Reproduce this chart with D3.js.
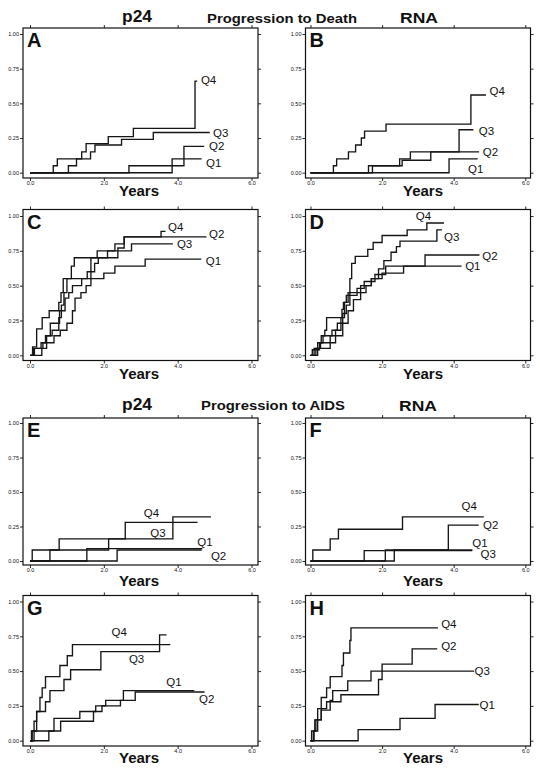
<!DOCTYPE html>
<html>
<head>
<meta charset="utf-8">
<script src="https://cdn.jsdelivr.net/npm/d3@7"></script>
<style>
  body { margin: 0; background: #fff; }
  svg text { font-family: "Liberation Sans", Arial, sans-serif; fill: #111; }
  .tick text { font-size: 5.5px; }
  .tick line { stroke: #111; stroke-width: 0.9; }
</style>
</head>
<body>
<script>
// cumulative probability step curves, [years, probability]; last point = end of follow-up
// Progression to death, p24 quartiles (A)
var aQ1 = [[0,0],[3.85,0.10],[4.65,0.10]];
var aQ2 = [[0,0],[2.68,0.05],[4.17,0.19],[4.72,0.19]];
var aQ3 = [[0,0],[1.04,0.05],[1.26,0.10],[1.64,0.15],[1.76,0.20],[2.48,0.24],[3.34,0.29],[4.87,0.29]];
var aQ4 = [[0,0],[0.63,0.05],[0.74,0.10],[1.40,0.15],[1.52,0.21],[2.12,0.26],[2.80,0.32],[4.47,0.66],[4.53,0.66]];
// Progression to death, RNA quartiles (B)
var bQ1 = [[0,0],[3.87,0.10],[4.67,0.10]];
var bQ2 = [[0,0],[1.73,0.05],[2.56,0.09],[3.36,0.15],[4.71,0.15]];
var bQ3 = [[0,0],[1.62,0.05],[2.49,0.10],[2.79,0.15],[4.15,0.31],[4.55,0.31]];
var bQ4 = [[0,0],[0.64,0.05],[0.73,0.10],[1.06,0.15],[1.26,0.20],[1.42,0.25],[1.51,0.30],[2.11,0.35],[4.48,0.56],[4.90,0.56]];
// (C)
var cQ1 = [[0,0],[0.32,0.05],[0.45,0.09],[0.65,0.14],[0.82,0.18],[1.0,0.23],[1.15,0.32],[1.22,0.41],[1.38,0.45],[1.52,0.50],[1.65,0.55],[2.0,0.59],[2.3,0.64],[3.12,0.69],[4.64,0.69]];
var cQ2 = [[0,0],[0.07,0.06],[0.18,0.19],[0.33,0.27],[0.52,0.32],[0.78,0.38],[0.84,0.45],[0.9,0.55],[1.12,0.64],[1.2,0.70],[2.38,0.77],[2.55,0.85],[4.78,0.85]];
var cQ3 = [[0,0],[0.12,0.05],[0.35,0.09],[0.45,0.14],[0.55,0.23],[0.8,0.32],[0.95,0.41],[1.05,0.45],[1.15,0.50],[1.4,0.55],[1.55,0.60],[1.75,0.66],[1.85,0.70],[2.1,0.75],[2.75,0.80],[3.87,0.80]];
var cQ4 = [[0,0],[0.1,0.05],[0.3,0.09],[0.42,0.14],[0.6,0.18],[0.78,0.27],[0.85,0.36],[0.92,0.45],[1.0,0.55],[1.65,0.70],[1.82,0.75],[2.3,0.80],[2.55,0.85],[3.55,0.89],[3.67,0.89]];
// (D)
var dQ1 = [[0,0],[0.2,0.05],[0.55,0.14],[0.9,0.23],[1.05,0.32],[1.2,0.40],[1.4,0.45],[1.55,0.50],[1.7,0.55],[2.0,0.59],[2.6,0.64],[4.22,0.64]];
var dQ2 = [[0,0],[0.05,0.04],[0.25,0.09],[0.35,0.14],[0.6,0.18],[0.75,0.23],[0.9,0.30],[1.0,0.36],[1.1,0.43],[1.3,0.48],[1.5,0.53],[1.8,0.58],[2.1,0.64],[3.2,0.72],[4.72,0.72]];
var dQ3 = [[0,0],[0.15,0.05],[0.28,0.09],[0.7,0.18],[0.85,0.27],[0.95,0.38],[1.05,0.45],[1.4,0.50],[1.7,0.55],[1.9,0.62],[2.05,0.68],[2.25,0.74],[2.4,0.78],[2.5,0.82],[3.53,0.90],[3.67,0.90]];
var dQ4 = [[0,0],[0.1,0.05],[0.2,0.09],[0.3,0.14],[0.4,0.18],[0.45,0.27],[0.88,0.33],[0.92,0.38],[1.0,0.43],[1.1,0.55],[1.15,0.66],[1.25,0.71],[1.6,0.76],[1.75,0.81],[2.0,0.86],[2.7,0.90],[3.25,0.95],[3.73,0.95]];
// Progression to AIDS, p24 quartiles (E)
var eQ1 = [[0,0],[1.54,0.09],[4.67,0.09]];
var eQ2 = [[0,0],[2.36,0.08],[4.65,0.08]];
var eQ3 = [[0,0],[0.54,0.08],[2.13,0.16],[3.87,0.32],[4.90,0.32]];
var eQ4 = [[0,0],[0.06,0.08],[0.79,0.16],[2.58,0.28],[4.54,0.28]];
// Progression to AIDS, RNA quartiles (F)
var fQ1 = [[0,0],[1.50,0.075],[4.52,0.075]];
var fQ2 = [[0,0],[2.09,0.08],[3.85,0.26],[4.70,0.26]];
var fQ3 = [[0,0],[2.34,0.08],[4.52,0.08]];
var fQ4 = [[0,0],[0.065,0.08],[0.55,0.16],[0.78,0.23],[2.57,0.32],[4.84,0.32]];
// (G)
var gQ1 = [[0,0],[0.06,0.07],[0.65,0.16],[1.35,0.21],[1.78,0.25],[2.05,0.29],[2.53,0.36],[4.45,0.36]];
var gQ2 = [[0,0],[0.51,0.07],[0.83,0.14],[1.72,0.21],[1.95,0.25],[2.45,0.29],[2.85,0.35],[4.73,0.35]];
var gQ3 = [[0,0],[0.11,0.07],[0.18,0.21],[0.42,0.28],[0.54,0.36],[0.92,0.44],[1.10,0.51],[1.92,0.64],[3.51,0.69],[3.80,0.69]];
var gQ4 = [[0,0],[0.04,0.07],[0.11,0.14],[0.18,0.21],[0.27,0.31],[0.33,0.38],[0.42,0.46],[0.81,0.54],[1.01,0.61],[1.15,0.69],[3.51,0.76],[3.70,0.76]];
// (H)
var hQ1 = [[0,0],[1.33,0.08],[2.50,0.16],[3.48,0.26],[4.70,0.26]];
var hQ2 = [[0,0],[0.08,0.07],[0.15,0.15],[0.30,0.23],[0.45,0.28],[0.85,0.33],[1.90,0.44],[2.00,0.55],[2.84,0.66],[3.54,0.66]];
var hQ3 = [[0,0],[0.10,0.07],[0.20,0.15],[0.30,0.22],[0.55,0.29],[0.62,0.36],[1.04,0.43],[1.69,0.50],[4.57,0.50]];
var hQ4 = [[0,0],[0.03,0.07],[0.12,0.15],[0.20,0.23],[0.30,0.31],[0.45,0.38],[0.55,0.46],[0.88,0.54],[0.92,0.63],[1.10,0.72],[1.13,0.81],[3.56,0.81]];

var quartiles = ["Q1", "Q2", "Q3", "Q4"];
var xTicks = [0, 2, 4, 6];
var yTicks = [0, 0.25, 0.5, 0.75, 1];

// page layout
var cols = [
  {left: 23, right: 258, x0: 30, x6: 251.5, yearsX: 139},
  {left: 305.5, right: 530.5, x0: 310.5, x6: 525.3, yearsX: 423}
];
var rows = [
  {top: 28, bottom: 178, y1: 34, y0: 172.7, yearsY: 196},
  {top: 209.5, bottom: 360.5, y1: 216, y0: 355.3, yearsY: 379},
  {top: 418, bottom: 565, y1: 423, y0: 561, yearsY: 586},
  {top: 595.5, bottom: 746, y1: 601.5, y0: 740.7, yearsY: 763}
];

// label anchors (years, prob) for Q1..Q4
var panels = [
  {id: "A", row: 0, col: 0, curves: [aQ1, aQ2, aQ3, aQ4], labels: [[4.77,0.07],[4.85,0.19],[4.96,0.29],[4.63,0.67]]},
  {id: "B", row: 0, col: 1, curves: [bQ1, bQ2, bQ3, bQ4], labels: [[4.40,0.03],[4.81,0.15],[4.70,0.30],[5.0,0.59]]},
  {id: "C", row: 1, col: 0, curves: [cQ1, cQ2, cQ3, cQ4], labels: [[4.76,0.68],[4.85,0.87],[3.98,0.80],[3.74,0.92]]},
  {id: "D", row: 1, col: 1, curves: [dQ1, dQ2, dQ3, dQ4], labels: [[4.32,0.64],[4.80,0.71],[3.73,0.85],[2.94,1.00]]},
  {id: "E", row: 2, col: 0, curves: [eQ1, eQ2, eQ3, eQ4], labels: [[4.53,0.14],[4.90,0.04],[3.26,0.20],[3.08,0.35]]},
  {id: "F", row: 2, col: 1, curves: [fQ1, fQ2, fQ3, fQ4], labels: [[4.52,0.13],[4.82,0.26],[4.75,0.05],[4.22,0.40]]},
  {id: "G", row: 3, col: 0, curves: [gQ1, gQ2, gQ3, gQ4], labels: [[3.69,0.42],[4.58,0.30],[2.68,0.59],[2.21,0.78]]},
  {id: "H", row: 3, col: 1, curves: [hQ1, hQ2, hQ3, hQ4], labels: [[4.72,0.26],[3.65,0.68],[4.58,0.50],[3.65,0.84]]}
];

var svg = d3.select("body").append("svg")
    .attr("width", 540)
    .attr("height", 768);

// section titles
function title(x, y, txt, size, len) {
  svg.append("text")
      .attr("x", x).attr("y", y)
      .attr("font-size", size)
      .attr("font-weight", "bold")
      .attr("textLength", len)
      .attr("lengthAdjust", "spacingAndGlyphs")
      .text(txt);
}
title(122, 21.5, "p24", 16.5, 30);
title(207, 22.5, "Progression to Death", 13.5, 150);
title(400, 23, "RNA", 15.5, 38);
title(122, 409.5, "p24", 16.5, 30);
title(201, 410, "Progression to AIDS", 13.5, 144);
title(399, 411, "RNA", 15.5, 38);

var line = d3.line().curve(d3.curveStepAfter);

panels.forEach(function(p) {
  var c = cols[p.col], r = rows[p.row];
  var x = d3.scaleLinear().domain([0, 6]).range([c.x0, c.x6]);
  var y = d3.scaleLinear().domain([0, 1]).range([r.y0, r.y1]);
  var g = svg.append("g");

  g.append("rect")
      .attr("x", c.left).attr("y", r.top)
      .attr("width", c.right - c.left).attr("height", r.bottom - r.top)
      .attr("fill", "none").attr("stroke", "#111").attr("stroke-width", 1.2);

  var left = g.append("g").attr("transform", "translate(" + c.left + ",0)")
      .call(d3.axisLeft(y).tickValues(yTicks).tickSize(3).tickPadding(1).tickFormat(d3.format(".2f")));
  var right = g.append("g").attr("transform", "translate(" + c.right + ",0)")
      .call(d3.axisRight(y).tickValues(yTicks).tickSize(3).tickFormat(""));
  var top = g.append("g").attr("transform", "translate(0," + r.top + ")")
      .call(d3.axisTop(x).tickValues(xTicks).tickSize(3).tickFormat(""));
  var bottom = g.append("g").attr("transform", "translate(0," + r.bottom + ")")
      .call(d3.axisBottom(x).tickValues(xTicks).tickSize(3).tickPadding(0.5));
  [left, right, top, bottom].forEach(function(a) {
    a.select(".domain").remove();
    a.selectAll("text").attr("font-family", null).attr("font-size", null);
  });

  p.curves.forEach(function(d) {
    g.append("path")
        .attr("d", line(d.map(function(v) { return [x(v[0]), y(v[1])]; })))
        .attr("fill", "none")
        .attr("stroke", "#151515")
        .attr("stroke-width", 1.35);
  });

  p.labels.forEach(function(l, i) {
    g.append("text")
        .attr("x", x(l[0])).attr("y", y(l[1]))
        .attr("dy", "0.35em")
        .attr("font-size", 11.5)
        .text(quartiles[i]);
  });

  g.append("text")
      .attr("x", c.left + 4).attr("y", r.top + 19)
      .attr("font-size", 20).attr("font-weight", "bold")
      .text(p.id);

  g.append("text")
      .attr("x", c.yearsX).attr("y", r.yearsY)
      .attr("text-anchor", "middle")
      .attr("font-size", 15).attr("font-weight", "bold")
      .text("Years");
});
</script>
</body>
</html>
